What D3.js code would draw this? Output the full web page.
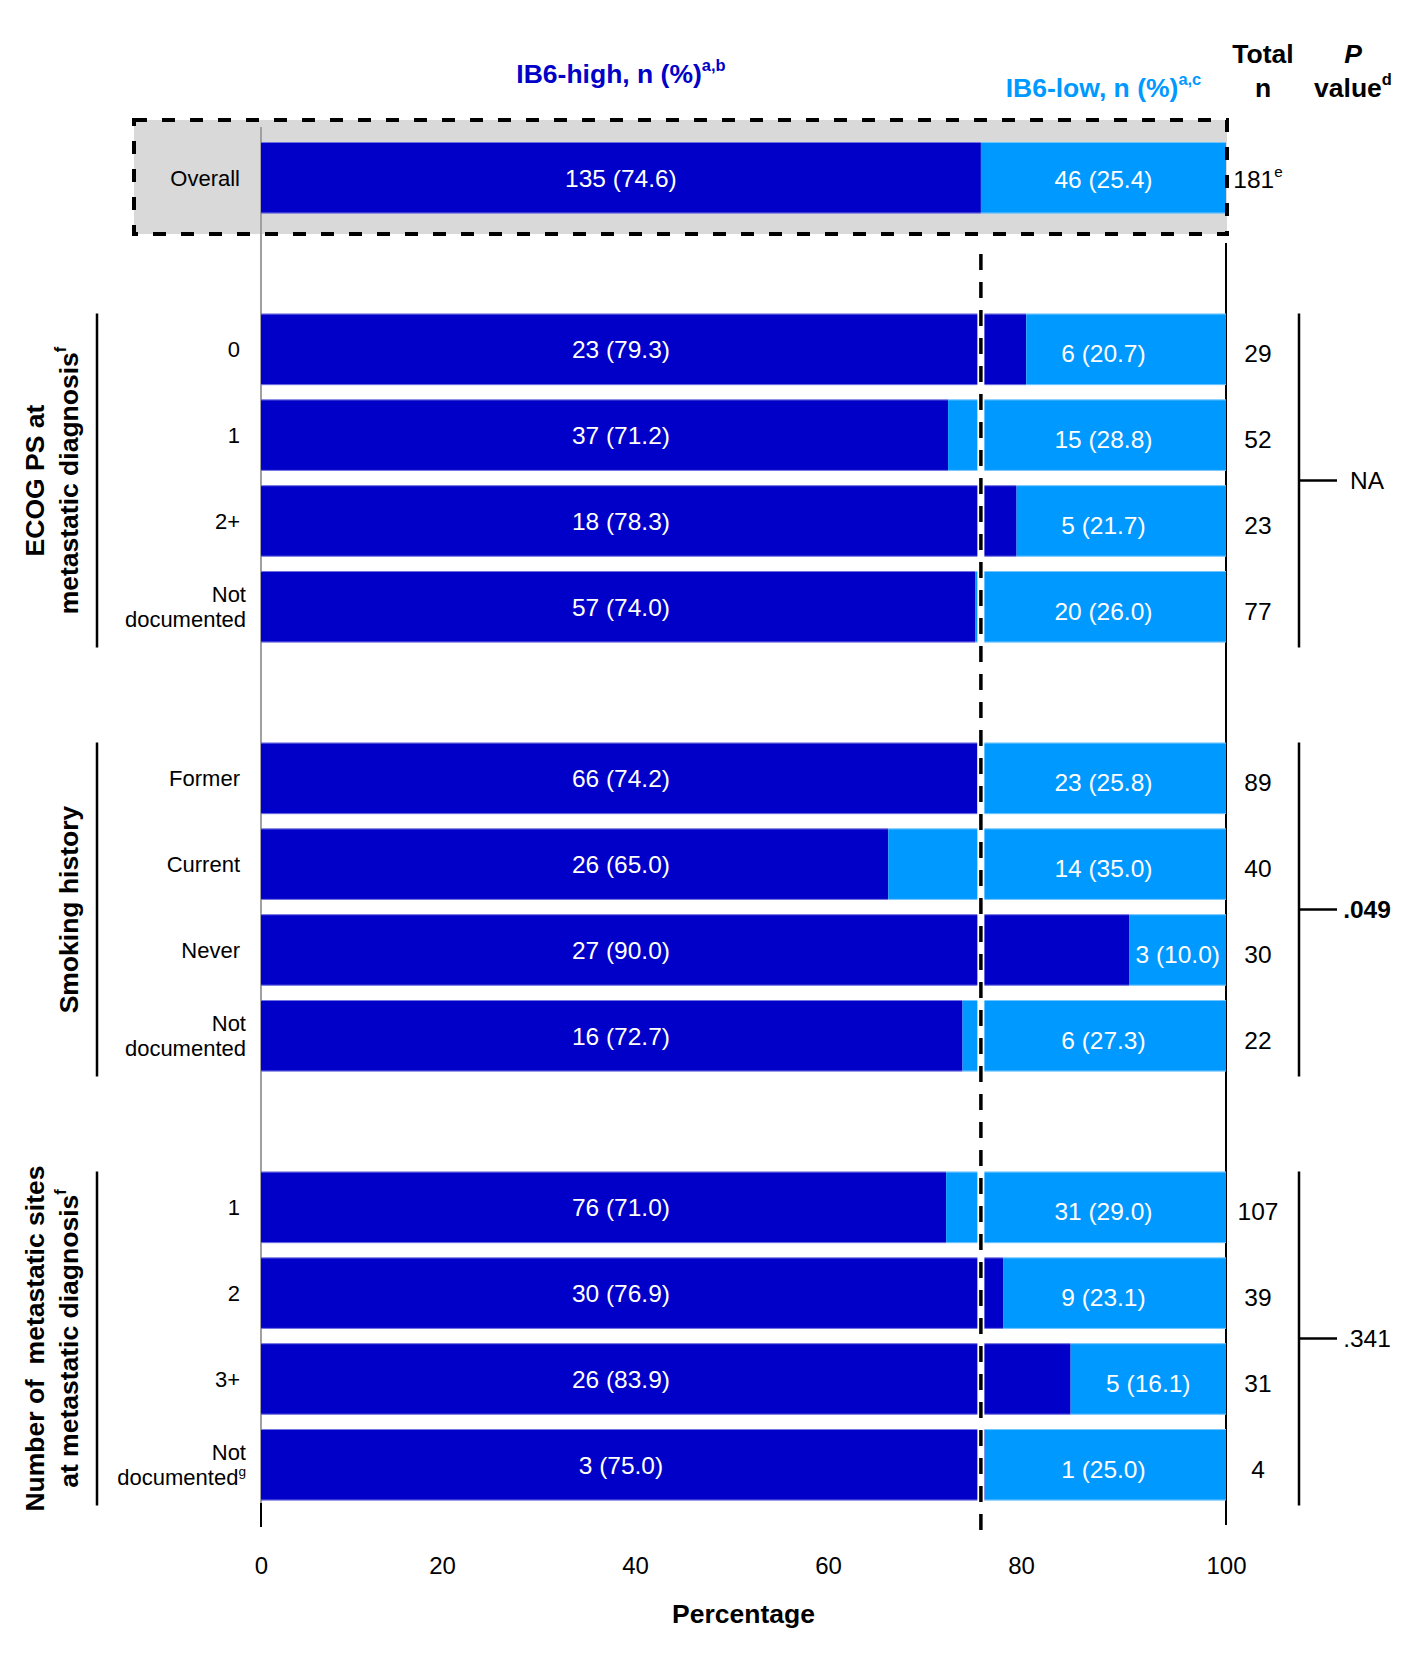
<!DOCTYPE html>
<html>
<head>
<meta charset="utf-8">
<script src="https://cdn.jsdelivr.net/npm/d3@7"></script>
<style>
  body { margin: 0; background: #fff; }
  svg text { font-family: "Liberation Sans", Arial, Helvetica, sans-serif; }
</style>
</head>
<body>
<svg id="chart" width="1416" height="1676"></svg>
<script>

// Values, one entry per bar (top to bottom)

const categories = ["Overall", "0", "1", "2+", "Not\ndocumented",
  "Former", "Current", "Never", "Not\ndocumented",
  "1", "2", "3+", "Not\ndocumented"];
const categorySup = ["", "", "", "", "", "", "", "", "", "", "", "", "g"];
const rowGroup = [0, 1, 1, 1, 1, 2, 2, 2, 2, 3, 3, 3, 3];

const highN = [135, 23, 37, 18, 57, 66, 26, 27, 16, 76, 30, 26, 3];
const highPct = [74.6, 79.3, 71.2, 78.3, 74.0, 74.2, 65.0, 90.0, 72.7, 71.0, 76.9, 83.9, 75.0];
const lowN = [46, 6, 15, 5, 20, 23, 14, 3, 6, 31, 9, 5, 1];
const lowPct = [25.4, 20.7, 28.8, 21.7, 26.0, 25.8, 35.0, 10.0, 27.3, 29.0, 23.1, 16.1, 25.0];
const totalN = [181, 29, 52, 23, 77, 89, 40, 30, 22, 107, 39, 31, 4];
const totalSup = ["e", "", "", "", "", "", "", "", "", "", "", "", ""];

// Subgroup blocks (group 1..3)
const groupLines = [
  ["ECOG PS at", "metastatic diagnosis"],
  ["Smoking history"],
  ["Number of  metastatic sites", "at metastatic diagnosis"]
];
const groupSup = ["f", "", "f"];
const pValues = ["NA", ".049", ".341"];

const xTicks = [0, 20, 40, 60, 80, 100];

const darkBlue = "#0000c8";
const lightBlue = "#0099ff";

const svg = d3.select("#chart");

const x = d3.scaleLinear().domain([0, 100]).range([261, 1226]);

// 16 slots: overall, gap, 4 rows, gap, 4 rows, gap, 4 rows
const slotOf = i => i === 0 ? 0 : i + rowGroup[i];
const y = d3.scaleBand()
  .domain(d3.range(16))
  .range([134.85, 1507.65])
  .paddingInner(0.1667)
  .paddingOuter(0.0833);

const overall = highPct[0];
const rows = d3.range(categories.length);

// helper: text with an optional superscript at its end
function addText(sel, main, sup, size) {
  sel.append("tspan").text(main);
  if (sup) {
    sel.append("tspan")
      .attr("font-size", size * 0.62)
      .attr("dy", -size * 0.42)
      .text(sup);
  }
  return sel;
}

// Overall highlighted box
svg.append("rect")
  .attr("x", 134)
  .attr("y", 120)
  .attr("width", x(100) + 1 - 134)
  .attr("height", 114)
  .attr("fill", "#d9d9d9")
  .attr("stroke", "none");

// zero line (grey) and its bottom tick
svg.append("line")
  .attr("x1", x(0)).attr("x2", x(0))
  .attr("y1", 127).attr("y2", 1503)
  .attr("stroke", "#a0a0a0").attr("stroke-width", 2);
svg.append("line")
  .attr("x1", x(0)).attr("x2", x(0))
  .attr("y1", 1503).attr("y2", 1527)
  .attr("stroke", "#000").attr("stroke-width", 2);

// 100 line
svg.append("line")
  .attr("x1", x(100)).attr("x2", x(100))
  .attr("y1", 243).attr("y2", 1525)
  .attr("stroke", "#000").attr("stroke-width", 2);

// stacked bars
const bars = svg.append("g");

bars.selectAll("rect.high").data(rows).enter()
  .append("rect")
  .attr("class", "high")
  .attr("x", x(0))
  .attr("y", i => y(slotOf(i)))
  .attr("width", i => x(highPct[i]) - x(0))
  .attr("height", y.bandwidth())
  .attr("fill", darkBlue);

bars.selectAll("rect.low").data(rows).enter()
  .append("rect")
  .attr("class", "low")
  .attr("x", i => x(highPct[i]))
  .attr("y", i => y(slotOf(i)))
  .attr("width", i => x(100) - x(highPct[i]))
  .attr("height", y.bandwidth())
  .attr("fill", lightBlue);

// thin light edges on the bars
bars.selectAll("line.edge").data(rows.flatMap(i => [y(slotOf(i)) + 0.5, y(slotOf(i)) + y.bandwidth() - 0.5]))
  .enter().append("line")
  .attr("x1", x(0)).attr("x2", x(100))
  .attr("y1", d => d).attr("y2", d => d)
  .attr("stroke", "#ffffff").attr("stroke-opacity", 0.45).attr("stroke-width", 1);

// dashed box edge drawn after the bar
svg.append("rect")
  .attr("x", 134)
  .attr("y", 120)
  .attr("width", x(100) + 1 - 134)
  .attr("height", 114)
  .attr("fill", "none")
  .attr("stroke", "#000")
  .attr("stroke-width", 4)
  .attr("stroke-dasharray", "13,15");

// overall reference line with a white halo
svg.append("line")
  .attr("x1", x(overall)).attr("x2", x(overall))
  .attr("y1", 254).attr("y2", 1532)
  .attr("stroke", "#fff").attr("stroke-width", 7);
svg.append("line")
  .attr("x1", x(overall)).attr("x2", x(overall))
  .attr("y1", 254).attr("y2", 1532)
  .attr("stroke", "#000").attr("stroke-width", 3.5)
  .attr("stroke-dasharray", "16,12");

// labels inside the bars
const labelSize = 24.5;
const labels = svg.append("g")
  .attr("font-size", labelSize)
  .attr("fill", "#fff")
  .attr("text-anchor", "middle");

labels.selectAll("text.high").data(rows).enter()
  .append("text")
  .attr("class", "high")
  .attr("x", x(overall / 2))
  .attr("y", i => y(slotOf(i)) + y.bandwidth() / 2)
  .attr("dy", "0.36em")
  .text(i => `${highN[i]} (${highPct[i].toFixed(1)})`);

const rightOffset = i => i === 0 ? 1 : 4;

labels.selectAll("text.low").data(rows).enter()
  .append("text")
  .attr("class", "low")
  .attr("x", x((overall + 100) / 2))
  .attr("y", i => y(slotOf(i)) + y.bandwidth() / 2 + rightOffset(i))
  .attr("dy", "0.36em")
  .text(i => `${lowN[i]} (${lowPct[i].toFixed(1)})`)
  .each(function (i) {
    // shift into the light segment when the label would overlap the dark one
    const w = this.getComputedTextLength();
    if (x((overall + 100) / 2) - w / 2 < x(highPct[i]) + 4) {
      d3.select(this).attr("x", x((highPct[i] + 100) / 2));
    }
  });

// category labels
const catG = svg.append("g")
  .attr("font-size", 22)
  .attr("fill", "#000")
  .attr("text-anchor", "end");

rows.forEach(i => {
  const lines = categories[i].split("\n");
  const cy = y(slotOf(i)) + y.bandwidth() / 2;
  const right = lines.length > 1 ? x(0) - 15 : x(0) - 21;
  lines.forEach((line, k) => {
    const t = catG.append("text")
      .attr("x", right)
      .attr("y", cy + (k - (lines.length - 1) / 2) * 25.5)
      .attr("dy", "0.36em");
    addText(t, line, k === lines.length - 1 ? categorySup[i] : "", 22);
  });
});

// total n column
const totalG = svg.append("g")
  .attr("font-size", labelSize)
  .attr("fill", "#000")
  .attr("text-anchor", "middle");

rows.forEach(i => {
  const t = totalG.append("text")
    .attr("x", 1258)
    .attr("y", y(slotOf(i)) + y.bandwidth() / 2 + rightOffset(i))
    .attr("dy", "0.36em");
  addText(t, String(totalN[i]), totalSup[i], labelSize);
});

// group brackets, group names and P values
const headSize = 26.5;

[1, 2, 3].forEach(g => {
  const members = rows.filter(i => rowGroup[i] === g);
  const top = y(slotOf(members[0]));
  const bottom = y(slotOf(members[members.length - 1])) + y.bandwidth() + 5;
  const mid = (top + bottom) / 2;

  svg.append("line")
    .attr("x1", 97).attr("x2", 97)
    .attr("y1", top).attr("y2", bottom)
    .attr("stroke", "#000").attr("stroke-width", 2.5);

  const lines = groupLines[g - 1];
  lines.forEach((line, k) => {
    const lx = 68 - (lines.length - 1 - k) * 34;
    const t = svg.append("text")
      .attr("transform", `translate(${lx},${mid}) rotate(-90)`)
      .attr("text-anchor", "middle")
      .attr("dy", "0.36em")
      .attr("font-size", headSize)
      .attr("font-weight", "bold")
      .attr("xml:space", "preserve")
      .style("white-space", "pre");
    addText(t, line, k === lines.length - 1 ? groupSup[g - 1] : "", headSize);
  });

  // right side bracket
  svg.append("line")
    .attr("x1", 1299).attr("x2", 1299)
    .attr("y1", top).attr("y2", bottom)
    .attr("stroke", "#000").attr("stroke-width", 2.5);
  svg.append("line")
    .attr("x1", 1299).attr("x2", 1337)
    .attr("y1", mid).attr("y2", mid)
    .attr("stroke", "#000").attr("stroke-width", 2.5);

  const p = pValues[g - 1];
  svg.append("text")
    .attr("x", 1367)
    .attr("y", mid)
    .attr("dy", "0.36em")
    .attr("text-anchor", "middle")
    .attr("font-size", labelSize)
    .attr("font-weight", +p < 0.05 ? "bold" : "normal")
    .text(p);
});

// column headings
addText(svg.append("text")
  .attr("x", x(overall / 2)).attr("y", 73).attr("dy", "0.36em")
  .attr("text-anchor", "middle")
  .attr("font-size", headSize).attr("font-weight", "bold")
  .attr("fill", darkBlue), "IB6-high, n (%)", "a,b", headSize);

addText(svg.append("text")
  .attr("x", x((overall + 100) / 2)).attr("y", 87).attr("dy", "0.36em")
  .attr("text-anchor", "middle")
  .attr("font-size", headSize).attr("font-weight", "bold")
  .attr("fill", lightBlue), "IB6-low, n (%)", "a,c", headSize);

const heads = svg.append("g")
  .attr("font-size", headSize)
  .attr("font-weight", "bold")
  .attr("text-anchor", "middle");

heads.append("text").attr("x", 1263).attr("y", 53).attr("dy", "0.36em").text("Total");
heads.append("text").attr("x", 1263).attr("y", 87).attr("dy", "0.36em").text("n");
heads.append("text").attr("x", 1353).attr("y", 53).attr("dy", "0.36em")
  .attr("font-style", "italic").text("P");
addText(heads.append("text").attr("x", 1353).attr("y", 87).attr("dy", "0.36em"), "value", "d", headSize);

// x axis (the original's inner tick labels sit a little left of their ticks)
const axis = svg.append("g")
  .attr("transform", "translate(0,1557)")
  .call(d3.axisBottom(x).tickValues(xTicks).tickSize(0).tickPadding(0));
axis.select(".domain").remove();
axis.attr("font-size", 24);
axis.selectAll("text")
  .attr("fill", "#000")
  .attr("dx", d => (d > 0 && d < 100) ? -12 : 0);

svg.append("text")
  .attr("x", (x(0) + x(100)) / 2)
  .attr("y", 1613)
  .attr("dy", "0.36em")
  .attr("text-anchor", "middle")
  .attr("font-size", headSize)
  .attr("font-weight", "bold")
  .text("Percentage");

</script>
</body>
</html>
